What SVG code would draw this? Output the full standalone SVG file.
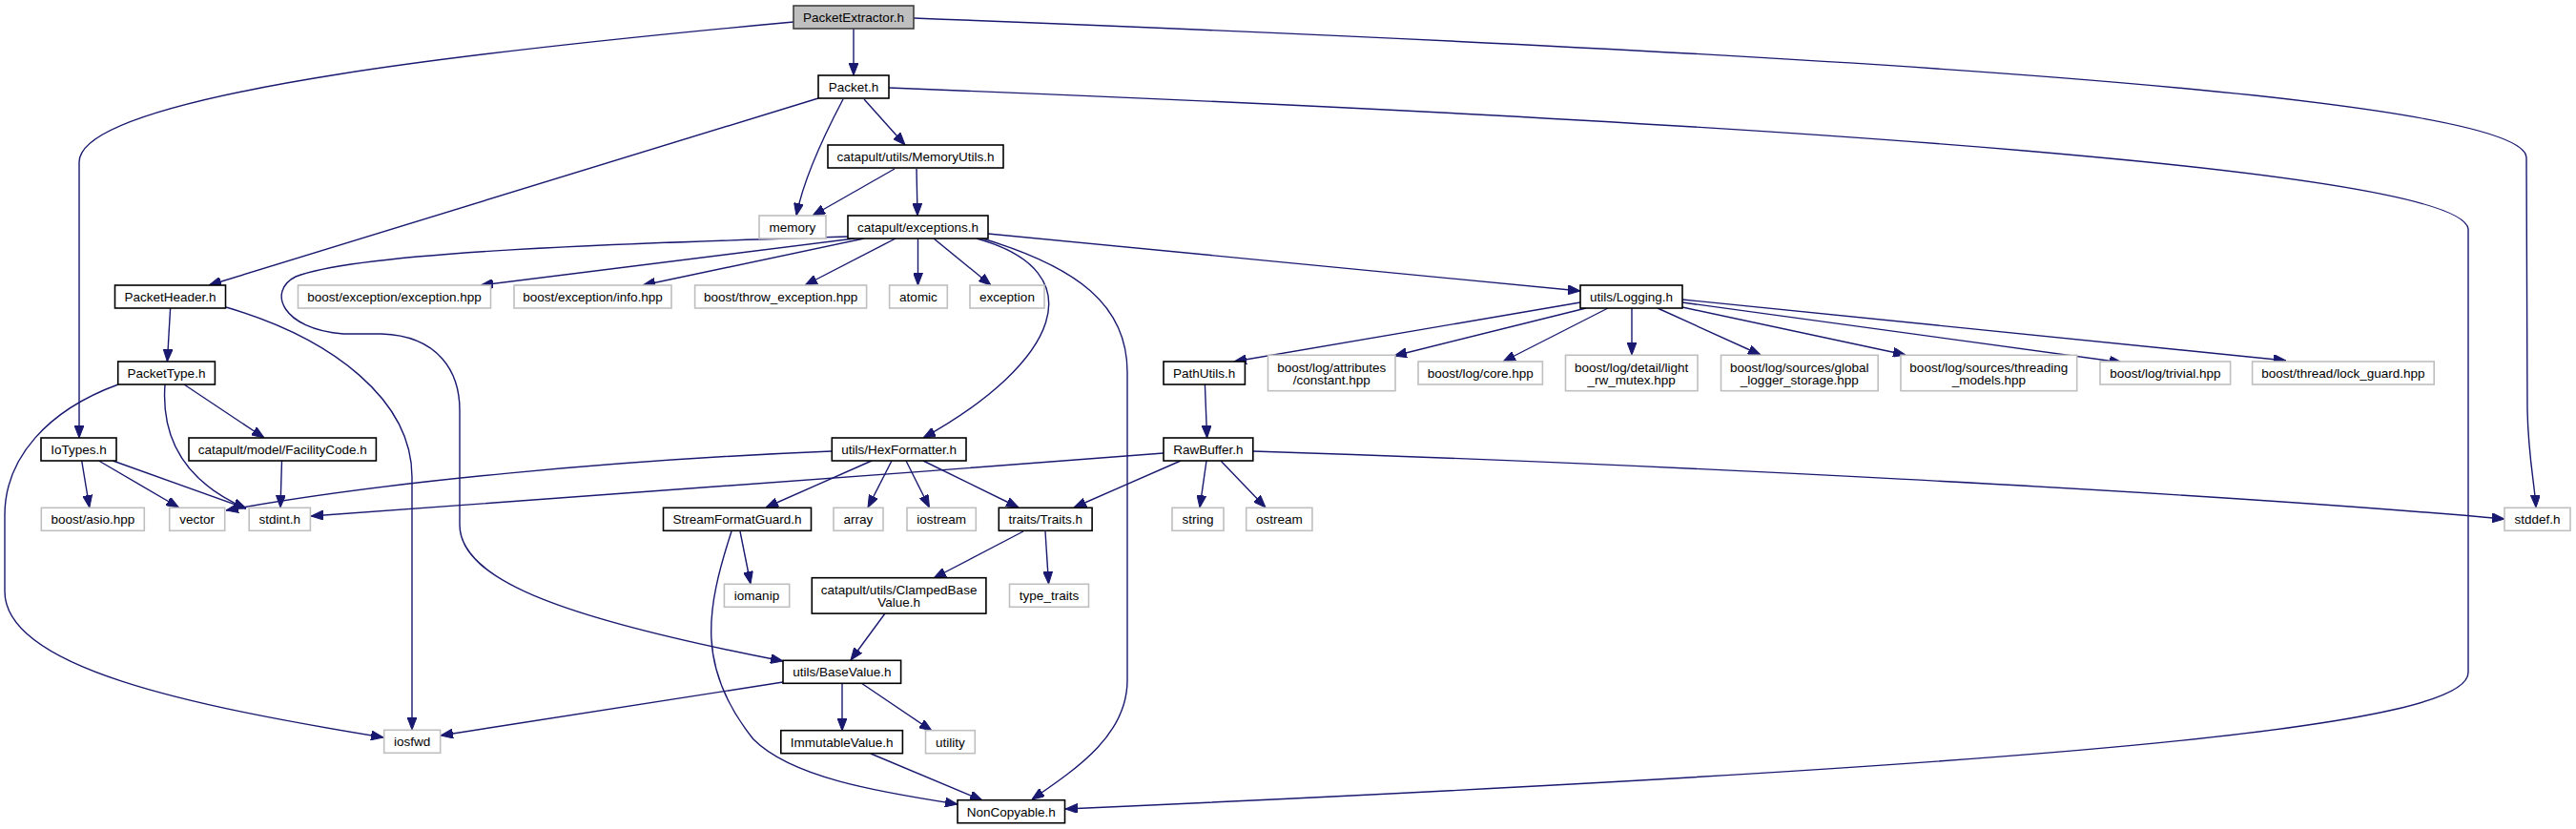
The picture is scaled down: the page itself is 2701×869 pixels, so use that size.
<svg xmlns="http://www.w3.org/2000/svg" width="2701" height="869" viewBox="0 0 2701 869">
<style>
.n rect{fill:#ffffff;stroke:#000000;stroke-width:1.6}
.x rect{fill:#ffffff;stroke:#bfbfbf;stroke-width:1.6}
.r rect{fill:#bfbfbf;stroke:#404040;stroke-width:1.6}
text{font-family:"Liberation Sans",Arial,Helvetica,sans-serif;font-size:13.5px;fill:#000000;text-anchor:middle}
#edges path{fill:none;stroke:#191970;stroke-width:1.4;marker-end:url(#arr)}
</style>
<defs>
<marker id="arr" markerUnits="userSpaceOnUse" viewBox="0 0 13 10" markerWidth="13" markerHeight="10" refX="13" refY="5" orient="auto">
<path d="M0,0 L13,5 L0,10 z" fill="#191970" stroke="#191970" stroke-width="1"/>
</marker>
</defs>
<rect width="2701" height="869" fill="#ffffff"/>
<g id="edges">
<path d="M895,30 L895,79"/>
<path d="M832,23 C560,48 83,95 83,170 L83,459"/>
<path d="M958,19 C1900,55 2645,100 2649,165 L2650,430 C2651,480 2658,510 2659,532"/>
<path d="M858,103 L219,299"/>
<path d="M884,104 C865,140 843,185 835,226"/>
<path d="M906,104 L949,152"/>
<path d="M932,92 C1900,130 2580,180 2588,240 L2588,705 C2588,760 2200,800 1117,848"/>
<path d="M938,177 L852,226"/>
<path d="M961,177 L962,226"/>
<path d="M896,250 L504,299"/>
<path d="M906,250 L674,299"/>
<path d="M939,250 L844,299"/>
<path d="M962.5,250 L962.5,299"/>
<path d="M979,250 L1039,299"/>
<path d="M1036,245 L1657,305"/>
<path d="M1024,250 C1150,285 1110,380 968,459"/>
<path d="M1030,250 C1130,280 1182,320 1182,390 L1182,713 C1182,770 1130,805 1082,838"/>
<path d="M889,248 C700,254 380,262 310,290 C280,305 295,345 360,350 L400,350 C460,352 482,390 482,430 L482,550 C482,610 600,650 821,693"/>
<path d="M178.6,323 L175.4,379"/>
<path d="M237,322 C350,355 432,420 432,500 L432,765"/>
<path d="M124,403 C50,430 5,480 5,540 L5,620 C5,700 200,740 402,773"/>
<path d="M173,403 C168,470 205,510 258,533"/>
<path d="M193,403 L277,459"/>
<path d="M295.5,483 L294,532"/>
<path d="M85.7,483 L93.8,532"/>
<path d="M103.6,483 L187.5,532"/>
<path d="M118.3,483 L258,533"/>
<path d="M872,473 C650,482 400,505 237,535"/>
<path d="M1220,475 C900,500 500,528 326,541"/>
<path d="M1314,473 C1700,485 2300,515 2626,544"/>
<path d="M914,483 L803,532"/>
<path d="M935,483 L910,532"/>
<path d="M950,483 L974.5,532"/>
<path d="M968,483 L1068,532"/>
<path d="M1238,483 L1126,532"/>
<path d="M1265,483 L1258,532"/>
<path d="M1280,483 L1327,532"/>
<path d="M1263.4,403 L1265.6,459"/>
<path d="M1657,317 L1294,379"/>
<path d="M1663,323 L1462,373"/>
<path d="M1686,323 L1576,379"/>
<path d="M1711,323 L1711,372"/>
<path d="M1738,323 L1846,372"/>
<path d="M1764,322 L1998,372"/>
<path d="M1764,317 L2225,380"/>
<path d="M1764,314 L2397,378"/>
<path d="M776,557 L787,612"/>
<path d="M767,557 C740,640 730,700 790,775 C830,815 920,830 1004,843"/>
<path d="M1073,557 L979,606"/>
<path d="M1096,557 L1099.5,612"/>
<path d="M928,643 L892,692"/>
<path d="M821,715 L462,771"/>
<path d="M883,716 L883,766"/>
<path d="M903,716 L977,766"/>
<path d="M913,790 L1030,839"/>
</g>
<g id="n_PacketExtractor" class="r"><rect x="832" y="6" width="126" height="24"/><text x="895" y="22.8">PacketExtractor.h</text></g>
<g id="n_Packet" class="n"><rect x="858" y="79" width="74" height="24"/><text x="895" y="95.8">Packet.h</text></g>
<g id="n_MemoryUtils" class="n"><rect x="868" y="152" width="184" height="24"/><text x="960" y="168.8">catapult/utils/MemoryUtils.h</text></g>
<g id="n_memory" class="x"><rect x="796" y="226" width="70" height="24"/><text x="831" y="242.8">memory</text></g>
<g id="n_exceptions" class="n"><rect x="889" y="226" width="147" height="24"/><text x="962.5" y="242.8">catapult/exceptions.h</text></g>
<g id="n_PacketHeader" class="n"><rect x="120.5" y="299" width="116" height="24"/><text x="178.5" y="315.8">PacketHeader.h</text></g>
<g id="n_boost_exception" class="x"><rect x="312.5" y="299" width="202" height="24"/><text x="413.5" y="315.8">boost/exception/exception.hpp</text></g>
<g id="n_boost_info" class="x"><rect x="539" y="299" width="165" height="24"/><text x="621.5" y="315.8">boost/exception/info.hpp</text></g>
<g id="n_boost_throw" class="x"><rect x="728.6" y="299" width="180" height="24"/><text x="818.6" y="315.8">boost/throw_exception.hpp</text></g>
<g id="n_atomic" class="x"><rect x="932.6" y="299" width="60.7" height="24"/><text x="963" y="315.8">atomic</text></g>
<g id="n_exception" class="x"><rect x="1017" y="299" width="78" height="24"/><text x="1056" y="315.8">exception</text></g>
<g id="n_Logging" class="n"><rect x="1657" y="299" width="107" height="24"/><text x="1710.5" y="315.8">utils/Logging.h</text></g>
<g id="n_PacketType" class="n"><rect x="123.7" y="379" width="101.7" height="24"/><text x="174.5" y="395.8">PacketType.h</text></g>
<g id="n_PathUtils" class="n"><rect x="1220" y="379" width="85.4" height="24"/><text x="1262.7" y="395.8">PathUtils.h</text></g>
<g id="n_constant" class="x"><rect x="1329.5" y="372.3" width="133.5" height="37.4"/><text x="1396.2" y="389.8">boost/log/attributes</text><text x="1396.2" y="402.6">/constant.hpp</text></g>
<g id="n_core" class="x"><rect x="1487" y="379" width="130.4" height="24"/><text x="1552.2" y="395.8">boost/log/core.hpp</text></g>
<g id="n_light" class="x"><rect x="1641.5" y="372.3" width="138.5" height="37.4"/><text x="1710.7" y="389.8">boost/log/detail/light</text><text x="1710.7" y="402.6">_rw_mutex.hpp</text></g>
<g id="n_global" class="x"><rect x="1804.5" y="372.3" width="164.7" height="37.4"/><text x="1886.8" y="389.8">boost/log/sources/global</text><text x="1886.8" y="402.6">_logger_storage.hpp</text></g>
<g id="n_threading" class="x"><rect x="1993" y="372.3" width="184.7" height="37.4"/><text x="2085.3" y="389.8">boost/log/sources/threading</text><text x="2085.3" y="402.6">_models.hpp</text></g>
<g id="n_trivial" class="x"><rect x="2202" y="379" width="136.6" height="24"/><text x="2270.3" y="395.8">boost/log/trivial.hpp</text></g>
<g id="n_lock_guard" class="x"><rect x="2361.6" y="379" width="190.6" height="24"/><text x="2456.9" y="395.8">boost/thread/lock_guard.hpp</text></g>
<g id="n_IoTypes" class="n"><rect x="43" y="459" width="79" height="24"/><text x="82.5" y="475.8">IoTypes.h</text></g>
<g id="n_FacilityCode" class="n"><rect x="198" y="459" width="196.4" height="24"/><text x="296.2" y="475.8">catapult/model/FacilityCode.h</text></g>
<g id="n_HexFormatter" class="n"><rect x="872.3" y="459" width="140.7" height="24"/><text x="942.6" y="475.8">utils/HexFormatter.h</text></g>
<g id="n_RawBuffer" class="n"><rect x="1220" y="459" width="93.8" height="24"/><text x="1266.9" y="475.8">RawBuffer.h</text></g>
<g id="n_asio" class="x"><rect x="43.3" y="532.3" width="108" height="24"/><text x="97.3" y="549.1">boost/asio.hpp</text></g>
<g id="n_vector" class="x"><rect x="177.7" y="532.3" width="58" height="24"/><text x="206.7" y="549.1">vector</text></g>
<g id="n_stdint" class="x"><rect x="261.2" y="532.3" width="64.2" height="24"/><text x="293.3" y="549.1">stdint.h</text></g>
<g id="n_StreamFormatGuard" class="n"><rect x="695.5" y="532.3" width="155" height="24"/><text x="773" y="549.1">StreamFormatGuard.h</text></g>
<g id="n_array" class="x"><rect x="874" y="532.3" width="52" height="24"/><text x="900" y="549.1">array</text></g>
<g id="n_iostream" class="x"><rect x="951" y="532.3" width="72.3" height="24"/><text x="987.1" y="549.1">iostream</text></g>
<g id="n_Traits" class="n"><rect x="1047.3" y="532.3" width="97.8" height="24"/><text x="1096.2" y="549.1">traits/Traits.h</text></g>
<g id="n_string" class="x"><rect x="1229" y="532.3" width="54" height="24"/><text x="1256" y="549.1">string</text></g>
<g id="n_ostream" class="x"><rect x="1306.7" y="532.3" width="69.2" height="24"/><text x="1341.3" y="549.1">ostream</text></g>
<g id="n_stddef" class="x"><rect x="2626" y="532.3" width="69" height="24"/><text x="2660.5" y="549.1">stddef.h</text></g>
<g id="n_iomanip" class="x"><rect x="759.4" y="612.3" width="68.3" height="24"/><text x="793.5" y="629.1">iomanip</text></g>
<g id="n_Clamped" class="n"><rect x="851.3" y="605.7" width="182.6" height="37.4"/><text x="942.6" y="623">catapult/utils/ClampedBase</text><text x="942.6" y="636">Value.h</text></g>
<g id="n_type_traits" class="x"><rect x="1058.5" y="612.3" width="83" height="24"/><text x="1100" y="629.1">type_traits</text></g>
<g id="n_BaseValue" class="n"><rect x="821" y="692.3" width="123.6" height="24"/><text x="882.8" y="709.1">utils/BaseValue.h</text></g>
<g id="n_iosfwd" class="x"><rect x="402.7" y="765.3" width="59" height="24"/><text x="432.2" y="782.1">iosfwd</text></g>
<g id="n_ImmutableValue" class="n"><rect x="818.8" y="765.7" width="127.6" height="24"/><text x="882.6" y="782.5">ImmutableValue.h</text></g>
<g id="n_utility" class="x"><rect x="970.5" y="765.7" width="51.8" height="24"/><text x="996.4" y="782.5">utility</text></g>
<g id="n_NonCopyable" class="n"><rect x="1004" y="838.7" width="112.5" height="24"/><text x="1060.2" y="855.5">NonCopyable.h</text></g>
</svg>
